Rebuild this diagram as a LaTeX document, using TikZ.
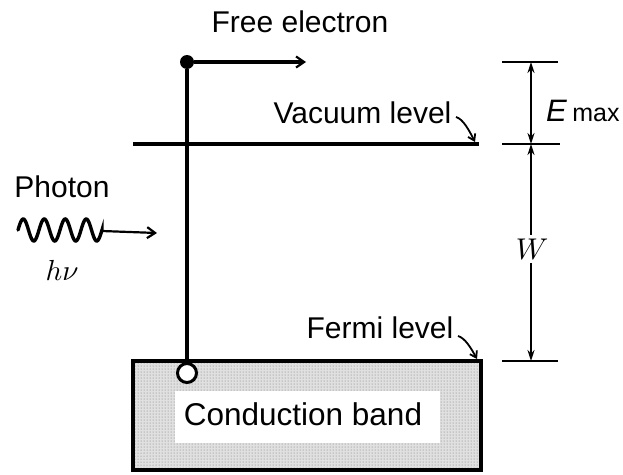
\documentclass[tikz,border=0pt]{standalone}
\usepackage{fontspec}
\setmainfont{Liberation Sans}
\usetikzlibrary{arrows.meta,patterns}
\begin{document}
\begin{tikzpicture}[x=1pt,y=-1pt,
  lbl/.style={font=\fontsize{30}{34}\selectfont, inner sep=0pt},
  thick line/.style={line width=3.2pt},
  barb/.style={-{Straight Barb[length=8pt,width=11pt,line width=2.2pt]}},
  dim/.style={line width=1.8pt},
  dtip/.style={-{Stealth[length=11pt,width=7pt]}},
  hook/.style={line width=1.8pt,-{Straight Barb[length=6pt,width=8pt,line width=1.8pt]}}]
\useasboundingbox (0,0) rectangle (623,474);

% conduction band
\fill[black!12] (133,361) rectangle (481,470);
\fill[pattern=dots, pattern color=black!55] (133,361) rectangle (481,470);
\draw[line width=3.2pt] (133,361) rectangle (481,470);
\node[fill=white, minimum width=265pt, minimum height=52pt, inner sep=0pt] (cbbox) at (307.5,416.5) {};
\node[font=\fontsize{31.5}{36}\selectfont, inner sep=0pt, anchor=base] (cb) at (303,425) {Conduction band};

% vacuum level
\coordinate (vacL) at (133,144);
\coordinate (vacR) at (479,144);
\draw[thick line] (vacL) -- (vacR);
\node[lbl, anchor=base] (vaclbl) at (362.5,123) {Vacuum level};
\coordinate (vh1) at (456,117);
\coordinate (vh2) at (475,142);
\draw[hook] (vh1) .. controls (463,119) and (469,130) .. (vh2);

% Fermi level label
\node[lbl, anchor=base] (fermilbl) at (380,338) {Fermi level};
\coordinate (fh1) at (458,336);
\coordinate (fh2) at (477,359);
\draw[hook] (fh1) .. controls (465,338) and (471,348) .. (fh2);

% electron path
\node[circle, fill=black, inner sep=0pt, minimum size=14pt] (el) at (187,62) {};
\node[circle, draw=black, fill=white, line width=3pt, inner sep=0pt, minimum size=19pt] (hole) at (187,373) {};
\draw[thick line] (el) -- (hole);
\coordinate (elend) at (306,62);
\draw[thick line, barb] (el) -- (elend);
\node[lbl, anchor=base] (freelbl) at (300,32) {Free electron};

% photon
\node[lbl, anchor=base] (photonlbl) at (62,197) {Photon};
\coordinate (ph1) at (102,231);
\coordinate (ph2) at (157,233);
\draw[line width=3.4pt, line cap=round] plot[domain=0:25.1327, samples=120, smooth] ({18+\x*84/25.1327},{230-11*sin(\x r)}) -- (ph1);
\draw[line width=2.2pt, barb] (ph1) -- (ph2);
\node[inner sep=0pt] (hnu) at (62,270) {\scalebox{2.9}{$h\nu$}};

% right dimension ticks
\coordinate (t1a) at (502,62);  \coordinate (t1b) at (558,62);
\coordinate (t2a) at (502,144); \coordinate (t2b) at (560,144);
\coordinate (t3a) at (502,361); \coordinate (t3b) at (558,361);
\draw[line width=2.2pt] (t1a) -- (t1b);
\draw[line width=2.2pt] (t2a) -- (t2b);
\draw[line width=2.2pt] (t3a) -- (t3b);
\coordinate (d1) at (531,62);
\coordinate (d2) at (531,144);
\coordinate (d3) at (531,361);
\coordinate (dm) at (531,103);
\draw[dim, dtip] (dm) -- (d1);
\draw[dim, dtip] (dm) -- (d2);
\node[inner sep=0pt, anchor=base west] (emax) at (546,121) {\fontsize{31}{34}\selectfont\textit{E}\,\fontsize{25}{28}\selectfont max};
\node[inner sep=4pt] (W) at (532,249) {\scalebox{3}{$W$}};
\draw[dim, dtip] (W.north -| d2) -- (d2);
\draw[dim, dtip] (W.south -| d3) -- (d3);
\end{tikzpicture}
\end{document}
